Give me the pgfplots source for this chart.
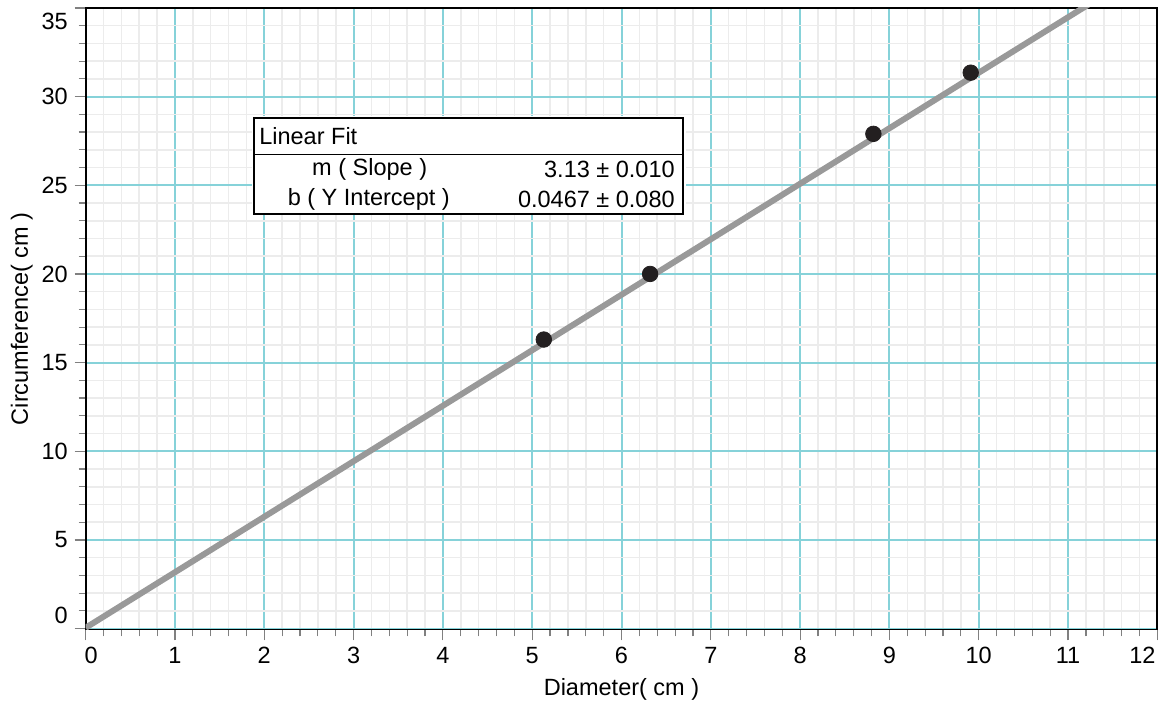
\documentclass[border=0pt]{standalone}
\usepackage{pgfplots}
\pgfplotsset{compat=1.18}
\usepackage{fontspec}
\setmainfont{Liberation Sans}
\definecolor{majgrid}{HTML}{86D2D9}
\definecolor{mingrid}{HTML}{ECECEC}
\definecolor{fitgray}{HTML}{999999}
\definecolor{dotc}{HTML}{231F20}
\newcommand{\lf}{\fontsize{11.8}{14}\selectfont}
\begin{document}
\begin{tikzpicture}
\begin{axis}[
 scale only axis, width=538pt, height=312pt,
 xmin=0, xmax=12, ymin=-0.05, ymax=35,
 xtick={0,...,12}, xticklabels={,1,2,3,4,5,6,7,8,9,10,11,},
 ytick={0,5,...,35}, yticklabels={,5,10,15,20,25,30,},
 minor x tick num=4, minor y tick num=4,
 grid=both,
 major grid style={majgrid, line width=1pt},
 minor grid style={mingrid, line width=0.8pt},
 tick align=outside, tick pos=left,
 major tick length=5.5pt, minor tick length=3.5pt,
 tick style={gray, line width=0.6pt},
 axis line style={black, line width=0.9pt},
 ticklabel style={font=\lf},
 /pgf/number format/assume math mode=true,
]
\addplot[fitgray, line width=3pt, no marks] coordinates {(0,0.0467) (12,37.6067)};
\addplot[only marks, mark=*, mark size=3.9pt, color=dotc] coordinates {(5.13,16.3) (6.32,20.0) (8.82,27.9) (9.91,31.35)};
\fill[white] (axis cs:1.86,23.3) rectangle (axis cs:6.72,28.9);
\draw[line width=0.9pt] (axis cs:1.885,23.4) rectangle (axis cs:6.69,28.8);
\draw[line width=0.9pt] (axis cs:1.885,26.74) -- (axis cs:6.69,26.74);
\node[anchor=west, font=\lf, inner sep=0pt] at (axis cs:1.94,27.75) {Linear Fit};
\node[font=\lf] at (axis cs:3.18,25.9) {m ( Slope )};
\node[font=\lf] at (axis cs:3.17,24.21) {b ( Y Intercept )};
\node[font=\lf, anchor=east, inner sep=0pt] at (axis cs:6.60,25.9) {3.13 ± 0.010};
\node[font=\lf, anchor=east, inner sep=0pt] at (axis cs:6.60,24.21) {0.0467 ± 0.080};
\end{axis}
\node[font=\lf, anchor=east] at ([xshift=-5.5pt,yshift=7pt]current axis.south west) {0};
\node[font=\lf, anchor=east] at ([xshift=-5.5pt,yshift=-7pt]current axis.north west) {35};
\node[font=\lf, anchor=north] at ([xshift=2.75pt,yshift=-5.5pt]current axis.south west) {0};
\node[font=\lf, anchor=north] at ([xshift=-7.5pt,yshift=-5.5pt]current axis.south east) {12};
\node[font=\lf] at ([yshift=-30pt]current axis.south) {Diameter( cm )};
\node[font=\lf, rotate=90] at ([xshift=-32pt]current axis.west) {Circumference( cm )};
\path ([xshift=-43pt,yshift=-38pt]current axis.south west) rectangle ([xshift=1pt,yshift=4pt]current axis.north east);
\end{tikzpicture}
\end{document}
